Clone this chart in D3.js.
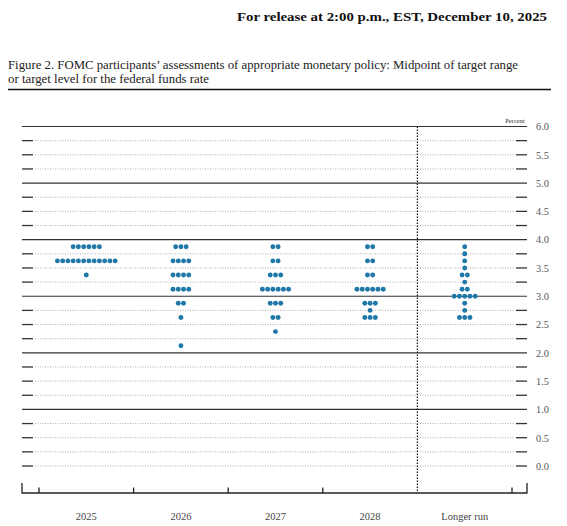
<!DOCTYPE html>
<html>
<head>
<meta charset="utf-8">
<script src="https://cdn.jsdelivr.net/npm/d3@7"></script>
<style>
  html, body { margin: 0; padding: 0; background: #fff; }
  svg { display: block; }
</style>
</head>
<body>
<svg id="chart" width="567" height="526"></svg>
<script>
// ---------------- data ----------------
const categories = ["2025", "2026", "2027", "2028", "Longer run"];
// [midpoint rate, number of participants]
const dots2025 = [[3.875, 6], [3.625, 12], [3.375, 1]];
const dots2026 = [[3.875, 3], [3.625, 4], [3.375, 4], [3.125, 4], [2.875, 2], [2.625, 1], [2.125, 1]];
const dots2027 = [[3.875, 2], [3.625, 2], [3.375, 3], [3.125, 6], [2.875, 3], [2.625, 2], [2.375, 1]];
const dots2028 = [[3.875, 2], [3.625, 2], [3.375, 2], [3.125, 6], [2.875, 3], [2.75, 1], [2.625, 3]];
const dotsLonger = [[3.875, 1], [3.75, 1], [3.625, 1], [3.5, 1], [3.375, 2], [3.25, 1], [3.125, 2], [3.0, 5], [2.875, 1], [2.75, 1], [2.625, 3]];
const seriesDots = [dots2025, dots2026, dots2027, dots2028, dotsLonger];
const yTickLabels = ["0.0", "0.5", "1.0", "1.5", "2.0", "2.5", "3.0", "3.5", "4.0", "4.5", "5.0", "5.5", "6.0"];
const headerText = "For release at 2:00 p.m., EST, December 10, 2025";
const titleLines = [
  "Figure 2. FOMC participants\u2019 assessments of appropriate monetary policy: Midpoint of target range",
  "or target level for the federal funds rate"
];
const unitLabel = "Percent";

// ---------------- layout ----------------
const svg = d3.select("#chart");
const serif = "'Liberation Serif', 'DejaVu Serif', serif";
const frameL = 22, frameR = 527, axisY = 493;

const x = d3.scaleBand().domain(categories).range([39, 512]).paddingInner(0).paddingOuter(0);
const y = d3.scaleLinear().domain([0, 6]).range([466, 126.5]);

// header
svg.append("text")
  .attr("x", 237).attr("y", 21)
  .attr("textLength", 310).attr("lengthAdjust", "spacingAndGlyphs")
  .attr("font-family", serif).attr("font-weight", "bold").attr("font-size", 13.3)
  .attr("fill", "#111")
  .text(headerText);

// title
const titleWidths = [510, 201];
svg.selectAll("text.title").data(titleLines).join("text")
  .attr("class", "title")
  .attr("x", 8).attr("y", (d, i) => 69 + i * 14)
  .attr("textLength", (d, i) => titleWidths[i]).attr("lengthAdjust", "spacingAndGlyphs")
  .attr("font-family", serif).attr("font-size", 11.6)
  .attr("fill", "#222")
  .text(d => d);

svg.append("line")
  .attr("x1", 8).attr("x2", 551).attr("y1", 89.5).attr("y2", 89.5)
  .attr("stroke", "#111").attr("stroke-width", 1.5);

// grid lines
const gridVals = d3.range(0, 24.5, 1).map(d => d / 4);
const g = svg.append("g");
gridVals.forEach(v => {
  const yy = y(v);
  if (v > 0 && Number.isInteger(v)) {
    g.append("line").attr("x1", frameL).attr("x2", frameR).attr("y1", yy).attr("y2", yy)
      .attr("stroke", "#333").attr("stroke-width", 1.2);
  } else {
    g.append("line").attr("x1", 35).attr("x2", 514).attr("y1", yy).attr("y2", yy)
      .attr("stroke", "#999").attr("stroke-width", 0.8).attr("stroke-dasharray", "1,1.5");
    g.append("line").attr("x1", frameL).attr("x2", 33).attr("y1", yy).attr("y2", yy)
      .attr("stroke", "#333").attr("stroke-width", 1.3);
    g.append("line").attr("x1", 516).attr("x2", frameR).attr("y1", yy).attr("y2", yy)
      .attr("stroke", "#333").attr("stroke-width", 1.3);
  }
});

// vertical dotted separator before "Longer run"
svg.append("line")
  .attr("x1", x("Longer run")).attr("x2", x("Longer run"))
  .attr("y1", y(6)).attr("y2", axisY)
  .attr("stroke", "#111").attr("stroke-width", 1.2).attr("stroke-dasharray", "1.5,1.5");

// right axis labels
const yAxis = d3.axisRight(y)
  .tickValues(yTickLabels.map(Number))
  .tickFormat((d, i) => yTickLabels[i])
  .tickSize(0).tickPadding(0);
const ya = svg.append("g").attr("transform", "translate(536,0)").call(yAxis);
ya.select(".domain").remove();
ya.selectAll("text").attr("font-family", serif).attr("font-size", 10.3).attr("fill", "#555");

svg.append("text")
  .attr("x", 515).attr("y", 122.5).attr("text-anchor", "middle")
  .attr("font-family", serif).attr("font-size", 6.5).attr("fill", "#333")
  .text(unitLabel);

// bottom axis
svg.append("line").attr("x1", frameL).attr("x2", frameR).attr("y1", axisY).attr("y2", axisY)
  .attr("stroke", "#222").attr("stroke-width", 1.3);
[frameL, frameR].forEach(xx => {
  svg.append("line").attr("x1", xx).attr("x2", xx).attr("y1", axisY - 10).attr("y2", axisY + 0.6)
    .attr("stroke", "#222").attr("stroke-width", 1.3);
});
const bounds = categories.map(c => x(c)).concat([x(categories[categories.length - 1]) + x.bandwidth()]);
bounds.forEach((xx, i) => {
  if (i === categories.length - 1) return; // separator drawn as dotted line
  svg.append("line").attr("x1", xx).attr("x2", xx).attr("y1", axisY - 5.5).attr("y2", axisY)
    .attr("stroke", "#222").attr("stroke-width", 1.3);
});

const xAxis = d3.axisBottom(x).tickSize(0).tickPadding(0);
const xa = svg.append("g").attr("transform", `translate(0,${axisY + 20})`).call(xAxis);
xa.select(".domain").remove();
xa.selectAll("text").attr("font-family", serif).attr("font-size", 10.5).attr("fill", "#444");

// dots
const spacing = 5.25, radius = 2.45;
const dotData = [];
seriesDots.forEach((rows, ci) => {
  rows.forEach(([rate, n]) => {
    for (let i = 0; i < n; i++) {
      dotData.push({ cat: categories[ci], rate, off: i - (n - 1) / 2 });
    }
  });
});
svg.append("g").selectAll("circle").data(dotData).join("circle")
  .attr("cx", d => x(d.cat) + x.bandwidth() / 2 + d.off * spacing)
  .attr("cy", d => y(d.rate))
  .attr("r", radius)
  .attr("fill", "#1f78a8");
</script>
</body>
</html>
